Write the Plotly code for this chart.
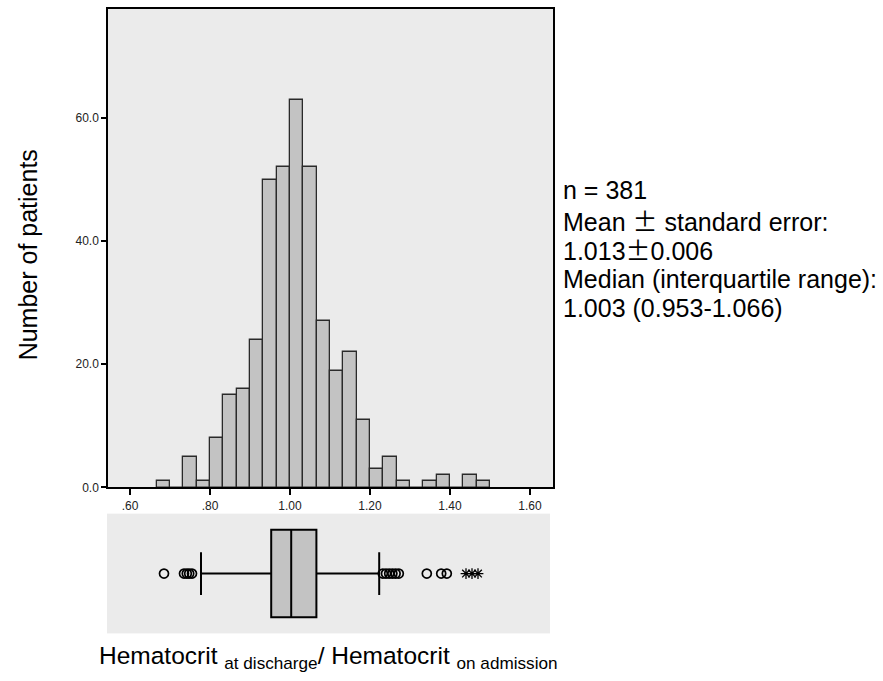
import plotly.graph_objects as go

# ---- data ----
bin_width = 1 / 30
bin_starts = [0.6667, 0.7000, 0.7333, 0.7667, 0.8000, 0.8333, 0.8667, 0.9000, 0.9333,
              0.9667, 1.0000, 1.0333, 1.0667, 1.1000, 1.1333, 1.1667, 1.2000, 1.2333,
              1.2667, 1.3000, 1.3333, 1.3667, 1.4000, 1.4333, 1.4667]
counts = [1, 0, 5, 1, 8, 15, 16, 24, 50, 52, 63, 52, 27, 19, 22, 11, 3, 5, 1, 0, 1, 2, 0, 2, 1]

q1, median, q3 = 0.953, 1.003, 1.066
lower_whisker, upper_whisker = 0.7775, 1.223
outliers = [0.685, 0.735, 0.742, 0.748, 0.755, 1.232, 1.24, 1.248, 1.256, 1.264, 1.272,
            1.342, 1.378, 1.392]
extremes = [1.44, 1.455, 1.47]

x_tickvals = [0.6, 0.8, 1.0, 1.2, 1.4, 1.6]
x_ticktext = [".60", ".80", "1.00", "1.20", "1.40", "1.60"]
y_tickvals = [0, 20, 40, 60]
y_ticktext = ["0.0", "20.0", "40.0", "60.0"]

PM = "<span style='font-family:Noto Sans CJK JP'>\u00b1</span>"
stats_lines = ["n = 381", "Mean " + PM + " standard error:", "1.013" + PM + "0.006",
               "Median (interquartile range):", "1.003 (0.953-1.066)"]
y_title = "Number of patients"
x_title = ("Hematocrit <sub>at discharge</sub>/ Hematocrit <sub>on admission</sub>")

# ---- figure ----
W, H = 883, 681
FONT = "Liberation Sans, Arial, sans-serif"
BG = "#ebebeb"

def px_x(p):
    return p / W

def px_y(p):
    return 1 - p / H

fig = go.Figure()

bin_centers = [s + bin_width / 2 for s in bin_starts]
fig.add_trace(go.Bar(
    x=bin_centers, y=counts, width=bin_width,
    marker=dict(color="#c3c3c3", line=dict(color="#2a2a2a", width=1.3)),
    xaxis="x", yaxis="y", showlegend=False, hoverinfo="x+y"))

fig.add_trace(go.Box(
    y=[0], q1=[q1], median=[median], q3=[q3],
    lowerfence=[lower_whisker], upperfence=[upper_whisker],
    orientation="h", boxpoints=False, width=0.73, whiskerwidth=0.49,
    fillcolor="#c3c3c3", line=dict(color="black", width=2),
    xaxis="x2", yaxis="y2", showlegend=False))

fig.add_trace(go.Scatter(
    x=outliers, y=[0] * len(outliers), mode="markers",
    marker=dict(symbol="circle-open", size=9, color="black", line=dict(width=1.7)),
    xaxis="x2", yaxis="y2", showlegend=False))

fig.add_trace(go.Scatter(
    x=extremes, y=[0] * len(extremes), mode="markers",
    marker=dict(symbol="asterisk-open", size=9, color="black", line=dict(width=1.3)),
    xaxis="x2", yaxis="y2", showlegend=False))

tickfont = dict(family=FONT, size=12, color="#222222")

fig.update_layout(
    width=W, height=H,
    margin=dict(l=0, r=0, t=0, b=0),
    paper_bgcolor="white",
    plot_bgcolor=BG,
    bargap=0,
    xaxis=dict(domain=[px_x(108), px_x(553)], range=[0.545, 1.6575],
               tickvals=x_tickvals, ticktext=x_ticktext, tickfont=tickfont,
               ticks="outside", ticklen=6, tickwidth=1.5, tickcolor="black",
               showline=True, linecolor="black", linewidth=1.5, mirror=True,
               showgrid=False, zeroline=False, anchor="y"),
    yaxis=dict(domain=[px_y(492.5), px_y(9)], range=[0, 77.7],
               tickvals=y_tickvals, ticktext=y_ticktext, tickfont=tickfont,
               ticks="outside", ticklen=5, tickwidth=1.5, tickcolor="black",
               showline=True, linecolor="black", linewidth=1.5, mirror=True,
               showgrid=False, zeroline=False, anchor="x"),
    xaxis2=dict(domain=[px_x(107), px_x(550)], range=[0.5425, 1.65],
                showline=False, showticklabels=False, ticks="",
                showgrid=False, zeroline=False, anchor="y2"),
    yaxis2=dict(domain=[px_y(640), px_y(519)], range=[-0.5, 0.5],
                showline=False, showticklabels=False, ticks="",
                showgrid=False, zeroline=False, anchor="x2"),
)

annotations = []
line_ys = [192, 222, 252, 282, 311]
for txt, yy in zip(stats_lines, line_ys):
    annotations.append(dict(
        text=txt, x=px_x(561), y=px_y(yy), xref="paper", yref="paper",
        xanchor="left", yanchor="middle", showarrow=False,
        font=dict(family=FONT, size=25, color="black")))

annotations.append(dict(
    text=y_title, x=px_x(28), y=px_y(258), xref="paper", yref="paper",
    xanchor="center", yanchor="middle", textangle=-90, showarrow=False,
    font=dict(family=FONT, size=25, color="black")))

annotations.append(dict(
    text=x_title, x=px_x(328), y=px_y(664), xref="paper", yref="paper",
    xanchor="center", yanchor="middle", showarrow=False,
    font=dict(family=FONT, size=24.5, color="black")))

fig.update_layout(annotations=annotations)

fig.write_html("out.html",
               config={"displayModeBar": False},
               post_script="document.body.style.margin='0';document.body.style.overflow='hidden';")
